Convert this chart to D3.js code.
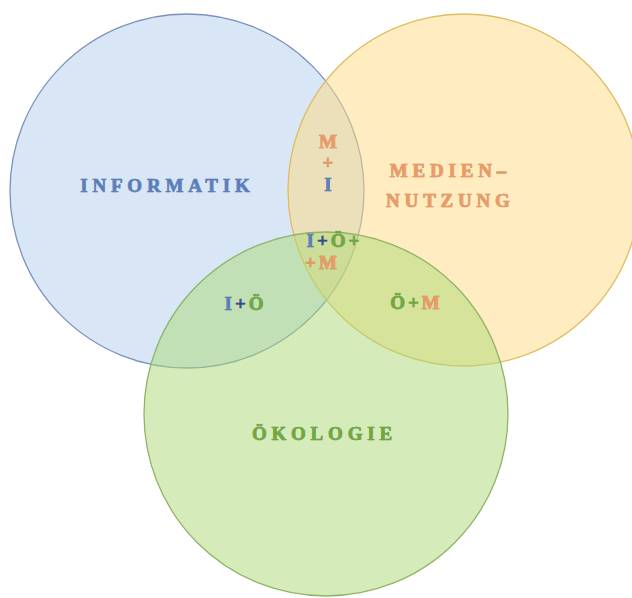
<!DOCTYPE html>
<html><head><meta charset="utf-8">
<script src="https://cdn.jsdelivr.net/npm/d3@7"></script>
<style>html,body{margin:0;padding:0;background:#fff;}svg{display:block;}</style>
</head><body>
<script>
// Sets (abstract venn units: centre x, centre y, radius)
const setNames = ["Informatik", "Mediennutzung", "Ökologie"];
const setCx = [1.87, 4.64, 3.26];
const setCy = [1.91, 1.90, 4.14];
const setR  = [1.77, 1.76, 1.82];
// Label lines per set; each line is a list of [text, colourKey] pieces
const setLabels = [
  [[["INFORMATIK","I"]]],
  [[["MEDIEN–","M"]], [["NUTZUNG","M"]]],
  [[["ÖKOLOGIE","O"]]]
];
const setLabelX = [1.65, 4.48, 3.22];
const setLabelY = [1.85, 1.85, 4.33];
// Overlap regions and their label anchors (venn units)
const regionNames = ["M+I", "I+Ö+M", "I+Ö", "Ö+M"];
const regionX = [3.28, 3.33, 2.44, 4.15];
const regionY = [1.62, 2.51, 3.03, 3.02];
const regionLines = [
  [[["M","M"]], [["+","M"]], [["I","I"]]],
  [[["I","I"],["+","N"],["Ö","O"],["+","O"]], [["+","M"],["M","M"]]],
  [[["I","I"],["+","N"],["Ö","O"]]],
  [[["Ö","O"],["+","O"],["M","M"]]]
];
const regionLineShift = [[0, 0, 0], [0, -0.12], [0], [0]];

const W = 632, H = 598;
const x = d3.scaleLinear().domain([0, 6.32]).range([0, W]);
const y = d3.scaleLinear().domain([0, 5.98]).range([0, H]);
const rs = d3.scaleLinear().domain([0, 1]).range([0, 100]);

const fills = ["#b3cdec", "#ffd981", "#abd975"];
const strokes = ["#7a93bd", "#dfbd62", "#90b467"];
const txt = {I: "#5b7fbe", M: "#ee9a66", O: "#6ea83f", N: "#2f4f8f"};

const svg = d3.select("body").append("svg").attr("width", W).attr("height", H);

const sets = setNames.map((n, i) => ({name: n, cx: setCx[i], cy: setCy[i], r: setR[i], i}));
svg.selectAll("circle.set").data(sets).join("circle")
  .attr("class", "set")
  .attr("cx", d => x(d.cx)).attr("cy", d => y(d.cy)).attr("r", d => rs(d.r))
  .attr("fill", d => fills[d.i]).attr("fill-opacity", 0.5)
  .attr("stroke", d => strokes[d.i]).attr("stroke-width", 1.3);

function drawLabel(cx, cy, lines, size, spacing, lineH, shifts) {
  const n = lines.length;
  lines.forEach((pieces, li) => {
    const dx = shifts ? x(shifts[li]) - x(0) : 0;
    const t = svg.append("text")
      .attr("x", cx + spacing / 2 + dx)
      .attr("y", cy + (li - (n - 1) / 2) * lineH)
      .attr("text-anchor", "middle")
      .attr("dominant-baseline", "central")
      .attr("font-family", "'Liberation Serif', 'DejaVu Serif', serif")
      .attr("font-weight", "bold")
      .attr("font-size", size)
      .attr("letter-spacing", spacing)
      .attr("paint-order", "stroke")
      .attr("stroke-width", 0.6);
    pieces.forEach(([s, k]) => {
      t.append("tspan").text(s).attr("fill", txt[k])
        .attr("stroke", d3.color(txt[k]).darker(0.6));
    });
  });
}

sets.forEach((d, i) => {
  drawLabel(x(setLabelX[i]), y(setLabelY[i]), setLabels[i], 19, 4.8, 30);
});
regionNames.forEach((n, i) => {
  const lh = i === 0 ? 21.5 : 22.5;
  drawLabel(x(regionX[i]), y(regionY[i]), regionLines[i], 19, 3, lh, regionLineShift[i]);
});
</script>
</body></html>
